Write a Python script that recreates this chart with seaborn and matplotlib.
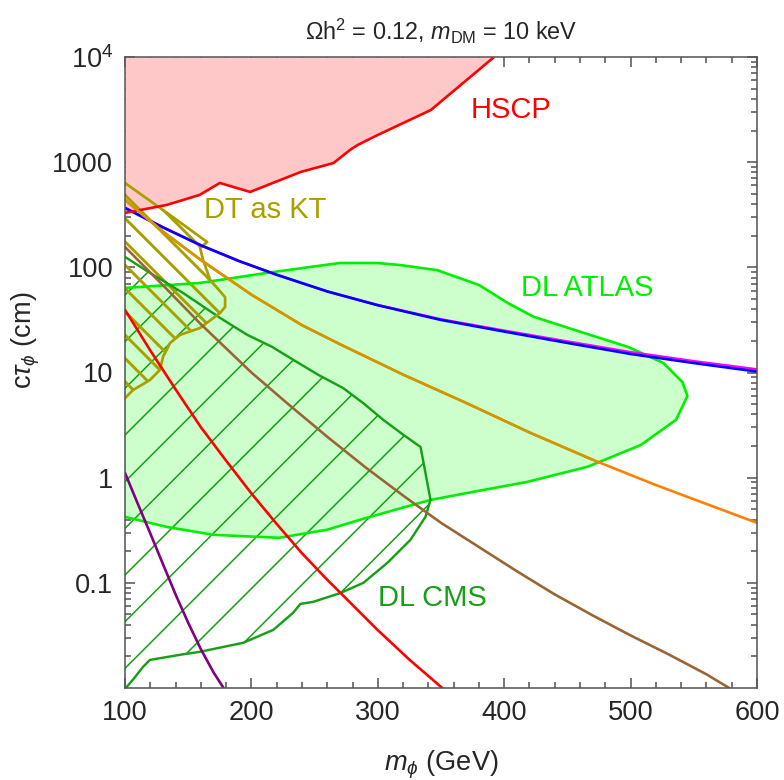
"""Lifetime vs mass exclusion plot: c tau_phi against m_phi."""

import numpy as np
import pandas as pd
import matplotlib.pyplot as plt
import seaborn as sns
from matplotlib.ticker import MultipleLocator, LogLocator, NullFormatter

# --- data (GeV, cm) ---
hscp_x = [100, 133, 159, 175, 199, 239, 265, 278, 284, 300, 342, 392]
hscp_y = [329, 392, 488, 634, 521, 807, 982, 1306, 1456, 1815, 3134, 10000]

atlas_up_x = [100, 159, 212, 270, 300, 318, 347, 380, 403, 423, 463, 498, 526, 541, 545]
atlas_up_y = [63.7, 71, 88.5, 110, 110, 105, 94, 68, 45.7, 34, 23.8, 17.5, 12.3, 8.1, 6.0]
atlas_lo_x = [100, 133, 170, 222, 260, 286, 320, 342, 380, 418, 466, 508, 536]
atlas_lo_y = [0.424, 0.34, 0.286, 0.268, 0.32, 0.398, 0.52, 0.615, 0.75, 0.91, 1.27, 2.04, 3.55]

cms_x = [100, 119.8, 146, 175.3, 196.7, 216.5, 233.1, 252.9, 272.7, 288.6, 304.4, 320.3,
         333.8, 335.3, 341.7, 337.7, 325.8, 307.6, 288.6, 270.4, 249, 238.7, 233.1, 217.3,
         193.5, 159.4, 143.6, 119.8, 114.3, 106.3, 100]
cms_y = [125.6, 88.5, 57, 33, 22.8, 17.5, 13.2, 9.5, 7.1, 5.1, 3.54, 2.55,
         1.96, 1.58, 0.615, 0.424, 0.256, 0.155, 0.1, 0.08, 0.066, 0.063, 0.052, 0.0357,
         0.0269, 0.0221, 0.0207, 0.0185, 0.0159, 0.012, 0.0098]

dt_x = [100, 133.3, 165, 159.4, 161.8, 167.4, 179.2, 179.2, 175.3, 159.4, 143.6, 135.7,
        130.1, 127.7, 119.8, 106.3, 100]
dt_y = [634, 329, 174, 153, 117, 76, 52, 42, 36.9, 26.5, 22.8, 19.1,
        14.1, 10.6, 8.5, 6.8, 5.7]

curve_x = [100, 130, 160, 190, 220, 260, 300, 350, 400, 450, 500, 550, 600]
blue_y = [367, 240, 162, 115, 85, 59, 43.6, 31.6, 24.5, 19.1, 15.0, 12.3, 10.2]
magenta_y = [367, 240, 162, 115, 85, 59, 43.8, 32.0, 25.0, 19.7, 15.6, 12.8, 10.7]

orange_x = [100, 130, 160, 200, 240, 270, 320, 370, 420, 470, 520, 560, 600]
orange_y = [437, 219, 117.5, 55, 28.2, 18.6, 9.55, 5.13, 2.69, 1.48, 0.851, 0.562, 0.372]

brown_x = [100, 130, 160, 200, 230, 260, 290, 320, 350, 380, 410, 440, 470, 500, 530, 560, 578]
brown_y = [156, 67.6, 28.8, 10.0, 4.9, 2.45, 1.26, 0.676, 0.372, 0.219, 0.129, 0.0776,
           0.049, 0.0316, 0.0209, 0.0135, 0.01]

red_x = [100, 120, 140, 160, 180, 200, 220, 240, 260, 280, 300, 325, 351]
red_y = [39.4, 16.2, 6.92, 3.02, 1.45, 0.708, 0.363, 0.191, 0.107, 0.0617, 0.0355, 0.0186, 0.01]

purple_x = [100, 110, 120, 130, 140, 150, 160, 170, 178]
purple_y = [1.11, 0.569, 0.295, 0.151, 0.0776, 0.0417, 0.0234, 0.0141, 0.01]

ytick_vals = [0.1, 1, 10, 100, 1000, 1e4]
ytick_labels = ["0.1", "1", "10", "100", "1000", r"$\mathregular{10^4}$"]

sns.set_theme(style="ticks")
plt.rcParams["font.family"] = ["Liberation Sans", "DejaVu Sans"]
plt.rcParams["mathtext.fontset"] = "custom"
plt.rcParams["mathtext.rm"] = "Liberation Sans"
plt.rcParams["mathtext.it"] = "Liberation Sans:italic"
plt.rcParams["mathtext.bf"] = "Liberation Sans:bold"
plt.rcParams["hatch.linewidth"] = 0.8


def with_hatch_width(patch, width):
    """Draw a patch with its own hatch line width."""
    if hasattr(patch, "set_hatch_linewidth"):
        patch.set_hatch_linewidth(width)
    orig_draw = patch.draw

    def draw(renderer):
        with plt.rc_context({"hatch.linewidth": width}):
            orig_draw(renderer)

    patch.draw = draw


fig = plt.figure(figsize=(784 / 140, 780 / 140), dpi=140)
ax = fig.add_axes([125 / 784, 1 - 688 / 780, 632 / 784, 631 / 780])
ax.set_yscale("log")

# filled regions
ax.fill_between(hscp_x, hscp_y, 1e4, color="#ffc8c8", lw=0)
atlas_x = atlas_up_x + atlas_lo_x[::-1]
atlas_y = atlas_up_y + atlas_lo_y[::-1]
ax.fill(atlas_x, atlas_y, facecolor="#ccffcc", edgecolor="none")
cms_patch = ax.fill(cms_x, cms_y, facecolor="none", edgecolor="#17a017", hatch="/", lw=0)[0]
dt_patch = ax.fill(dt_x, dt_y, facecolor="none", edgecolor="#a8a000", hatch="\\\\", lw=0)[0]
with_hatch_width(cms_patch, 0.8)
with_hatch_width(dt_patch, 1.5)

# region boundaries
ax.plot(atlas_x, atlas_y, color="#00ee00", lw=1.35)
ax.plot(cms_x, cms_y, color="#17a017", lw=1.25)
ax.plot(dt_x, dt_y, color="#a8a000", lw=1.4)

# curves
curves = [
    (curve_x, magenta_y, "#ff00ff"),
    (curve_x, blue_y, "#0000ff"),
    (orange_x, orange_y, "#ff8000"),
    (brown_x, brown_y, "#996633"),
    (red_x, red_y, "#ff0000"),
    (purple_x, purple_y, "#800080"),
    (hscp_x, hscp_y, "#ff0000"),
]
for xs, ys, col in curves:
    df = pd.DataFrame({"m": xs, "ctau": ys})
    sns.lineplot(data=df, x="m", y="ctau", color=col, lw=1.35, ax=ax, sort=False)

# darker gold over the left part of the orange curve
gold = pd.DataFrame({"m": orange_x, "ctau": orange_y})
gold = gold[gold["m"] <= 470]
sns.lineplot(data=gold, x="m", y="ctau", color="#cc9900", lw=1.35, ax=ax, sort=False)

# labels on the regions
ax.text(405, 3130, "HSCP", color="#ff0000", fontsize=15, ha="center", va="center")
ax.text(211, 351, "DT as KT", color="#a8a000", fontsize=15, ha="center", va="center")
ax.text(466, 63.7, "DL ATLAS", color="#00ee00", fontsize=15, ha="center", va="center")
ax.text(343, 0.072, "DL CMS", color="#17a017", fontsize=15, ha="center", va="center")

ax.set_xlim(100, 600)
ax.set_ylim(0.01, 1e4)
ax.xaxis.set_major_locator(MultipleLocator(100))
ax.xaxis.set_minor_locator(MultipleLocator(20))
ax.set_yticks(ytick_vals)
ax.set_yticklabels(ytick_labels)
ax.yaxis.set_minor_locator(LogLocator(base=10, subs=np.arange(2, 10), numticks=20))
ax.yaxis.set_minor_formatter(NullFormatter())

ax.tick_params(which="both", direction="in", top=True, right=True, color="#555555",
               width=0.8, labelsize=14, pad=6)
ax.tick_params(which="major", length=5)
ax.tick_params(which="minor", length=3)
for sp in ax.spines.values():
    sp.set_color("#555555")
    sp.set_linewidth(0.8)

ax.set_xlabel(r"$m_\phi$ (GeV)", fontsize=14, labelpad=12)
ax.set_ylabel(r"c$\tau_\phi$ (cm)", fontsize=14)
ax.yaxis.set_label_coords(-0.132, 0.551)
ax.set_title(r"Ωh$^2$ = 0.12, $m_{\rm DM}$ = 10 keV", fontsize=12, pad=9)

fig.savefig("out.png", dpi=140)
plt.close(fig)
